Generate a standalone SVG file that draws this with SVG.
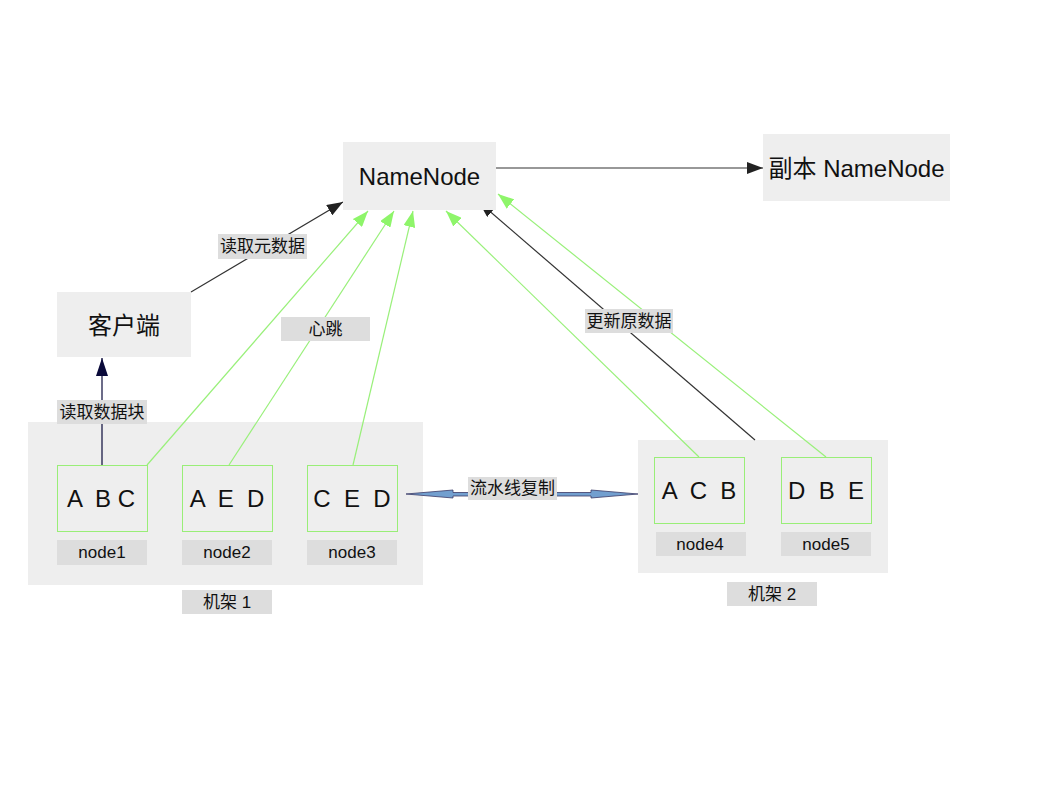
<svg xmlns="http://www.w3.org/2000/svg" width="1058" height="794" viewBox="0 0 1058 794">
<style>
text{font-family:"Liberation Sans","Noto Sans CJK SC",sans-serif;fill:#111;text-anchor:middle;dominant-baseline:central;white-space:pre}
.box{fill:#eeeeee}
.lbl{fill:#dddddd}
.dn{fill:#eeeeee;stroke:#99ee77;stroke-width:1}
.big{font-size:24px}
.sm{font-size:17px}
.nd{font-size:17px}
.blk{fill:none;stroke:#333;stroke-width:1.2}
.grn{fill:none;stroke:#99f07a;stroke-width:1.2}
</style>
<defs>
<marker id="ab" markerUnits="userSpaceOnUse" viewBox="0 0 16 12" refX="16" refY="6" markerWidth="16" markerHeight="12" orient="auto"><path d="M0,0 L16,6 L0,12 Z" fill="#222"/></marker>
<marker id="ag" markerUnits="userSpaceOnUse" viewBox="0 0 16 12" refX="16" refY="6" markerWidth="16" markerHeight="12" orient="auto"><path d="M0,0 L16,6 L0,12 Z" fill="#8ef56a"/></marker>
<marker id="an" markerUnits="userSpaceOnUse" viewBox="0 0 18 12" refX="18" refY="6" markerWidth="18" markerHeight="12" orient="auto"><path d="M0,0 L18,6 L0,12 Z" fill="#0a0a3a"/></marker>
</defs>
<rect width="1058" height="794" fill="#ffffff"/>
<g id="rack1"><rect class="box" x="28" y="422" width="395" height="163"/></g>
<g id="rack2"><rect class="box" x="638" y="440" width="250" height="133"/></g>
<g id="connectors">
<line class="blk" x1="496" y1="168" x2="763" y2="168" marker-end="url(#ab)"/>
<line class="blk" x1="191" y1="292" x2="343" y2="202" marker-end="url(#ab)"/>
<line class="blk" x1="755" y1="440" x2="479" y2="202" marker-end="url(#ab)"/>
<line class="grn" x1="147" y1="465" x2="368" y2="211" marker-end="url(#ag)"/>
<line class="grn" x1="229" y1="465" x2="394" y2="211" marker-end="url(#ag)"/>
<line class="grn" x1="353" y1="465" x2="413" y2="211" marker-end="url(#ag)"/>
<line class="grn" x1="699" y1="457" x2="446" y2="211" marker-end="url(#ag)"/>
<line class="grn" x1="826" y1="457" x2="498" y2="194" marker-end="url(#ag)"/>
<line x1="102" y1="490" x2="102" y2="358" stroke="#0a0a3a" stroke-width="1.2" marker-end="url(#an)"/>
<polygon points="406,494 453,490 453,492.5 591,492.5 591,490 638,494 591,498 591,496 453,496 453,498" fill="#729fcf" stroke="#3a3a66" stroke-width="0.8"/>
</g>
<g id="namenode"><rect class="box" x="343" y="142" width="153" height="68"/><text class="big" x="419.5" y="176">NameNode</text></g>
<g id="standby"><rect class="box" x="763" y="134" width="187" height="67"/><text class="big" x="856.5" y="168">副本 NameNode</text></g>
<g id="client"><rect class="box" x="57" y="292" width="134" height="65"/><text class="big" x="124" y="325">客户端</text></g>
<g id="lbl-meta"><rect class="lbl" x="218" y="234" width="89" height="25"/><text class="sm" x="262.5" y="246.5">读取元数据</text></g>
<g id="lbl-hb"><rect class="lbl" x="281" y="317" width="89" height="24"/><text class="sm" x="325.5" y="329">心跳</text></g>
<g id="lbl-upd"><rect class="lbl" x="585" y="309" width="88" height="24"/><text class="sm" x="629" y="321">更新原数据</text></g>
<g id="lbl-read"><rect class="lbl" x="57" y="400" width="90" height="24"/><text class="sm" x="102" y="412">读取数据块</text></g>
<g id="lbl-pipe"><rect class="lbl" x="468" y="477" width="89" height="23"/><text class="sm" x="512.5" y="488">流水线复制</text></g>
<g id="node1"><rect class="dn" x="57.5" y="465.5" width="90" height="66"/><text class="big" x="101" y="498">A  B C</text><rect class="lbl" x="57" y="540" width="90" height="25"/><text class="nd" x="102" y="552">node1</text></g>
<g id="node2"><rect class="dn" x="182.5" y="465.5" width="90" height="66"/><text class="big" x="227" y="498">A  E  D</text><rect class="lbl" x="182" y="540" width="90" height="25"/><text class="nd" x="227" y="552">node2</text></g>
<g id="node3"><rect class="dn" x="307.5" y="465.5" width="90" height="66"/><text class="big" x="352" y="498">C  E  D</text><rect class="lbl" x="307" y="540" width="90" height="25"/><text class="nd" x="352" y="552">node3</text></g>
<g id="node4"><rect class="dn" x="654.5" y="457.5" width="90" height="66"/><text class="big" x="699" y="490">A  C  B</text><rect class="lbl" x="656" y="532" width="90" height="24"/><text class="nd" x="700" y="544">node4</text></g>
<g id="node5"><rect class="dn" x="781.5" y="457.5" width="90" height="66"/><text class="big" x="826" y="490">D  B  E</text><rect class="lbl" x="781" y="532" width="90" height="24"/><text class="nd" x="826" y="544">node5</text></g>
<g id="lbl-rack1"><rect class="lbl" x="182" y="590" width="90" height="24"/><text class="sm" x="227" y="602">机架 1</text></g>
<g id="lbl-rack2"><rect class="lbl" x="727" y="582" width="90" height="24"/><text class="sm" x="772" y="594">机架 2</text></g>
</svg>
